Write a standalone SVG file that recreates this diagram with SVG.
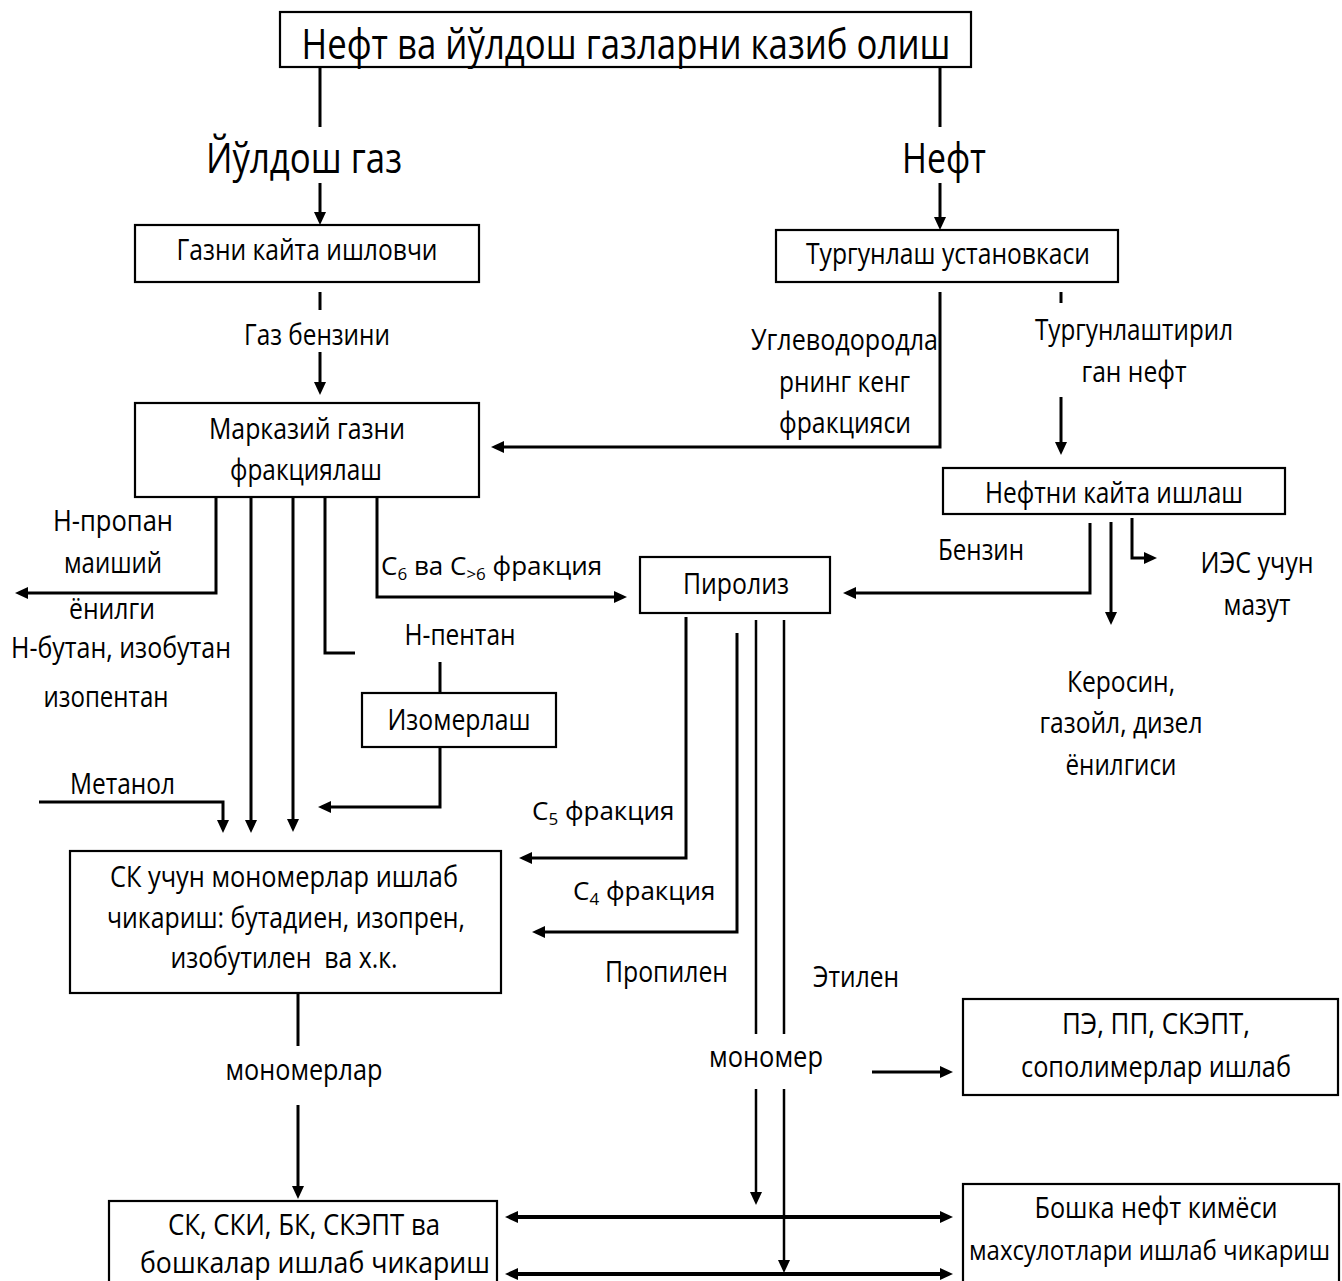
<svg xmlns="http://www.w3.org/2000/svg" width="1342" height="1281" viewBox="0 0 1342 1281">
<defs>
<style>
text{font-family:"Open Sans","Noto Sans","DejaVu Sans",sans-serif;fill:#000}
.b{font-size:42px}
.t{font-size:30px}
.s{font-size:26px}
.m{text-anchor:middle}
.box{fill:#fff;stroke:#000;stroke-width:2.2}
.c{fill:none;stroke:#000;stroke-width:3}
.th{fill:none;stroke:#000;stroke-width:2.5}
.dk{fill:none;stroke:#000;stroke-width:4}
.a{marker-end:url(#ah)}
.d{marker-start:url(#ah);marker-end:url(#ah)}
</style>
<marker id="ah" markerUnits="userSpaceOnUse" markerWidth="14" markerHeight="14" viewBox="0 0 14 14" refX="5" refY="7" orient="auto-start-reverse">
<path d="M0,1 L13,7 L0,13 z" fill="#000"/>
</marker>
</defs>
<rect width="1342" height="1281" fill="#fff"/>

<g id="connectors">
<path class="c" d="M320,67 V127"/>
<path class="c" d="M940,67 V127"/>
<path class="c a" d="M320,183 V217"/>
<path class="c a" d="M940,183 V222"/>
<path class="c" d="M320,292 V310"/>
<path class="c a" d="M320,352 V387"/>
<path class="c a" d="M940,292 V447 H499"/>
<path class="c" d="M1061,292 V303"/>
<path class="c a" d="M1061,397 V447"/>
<path class="c a" d="M216,490 V593 H23"/>
<path class="c a" d="M251,490 V825"/>
<path class="c a" d="M293,490 V824"/>
<path class="c" d="M325,490 V653 H355"/>
<path class="c a" d="M377,492 V597 H619"/>
<path class="c" d="M440,662 V693"/>
<path class="c a" d="M440,747 V807 H326"/>
<path class="c a" d="M39,802 H223 V825"/>
<path class="c a" d="M1090,523 V593 H851"/>
<path class="c a" d="M1111,522 V617"/>
<path class="c a" d="M1132,518 V558 H1149"/>
<path class="c a" d="M686,617 V858 H527"/>
<path class="c a" d="M737,633 V932 H540"/>
<path class="th" d="M756,620 V1034"/>
<path class="th" d="M784,620 V1034"/>
<path class="th a" d="M756,1089 V1197"/>
<path class="th a" d="M784,1089 V1265"/>
<path class="c a" d="M872,1072 H945"/>
<path class="dk d" d="M513,1217 H945"/>
<path class="dk d" d="M513,1274 H945"/>
<path class="c" d="M298,970 V1046"/>
<path class="c a" d="M298,1105 V1191"/>
</g>

<g id="n-top"><rect class="box" x="280" y="12" width="691" height="55"/>
<text class="b m" x="626" y="59" textLength="649" lengthAdjust="spacingAndGlyphs">Нефт ва йўлдош газларни казиб олиш</text></g>

<g id="l-gas"><text class="b m" x="304" y="173" textLength="196" lengthAdjust="spacingAndGlyphs">Йўлдош газ</text></g>
<g id="l-oil"><text class="b m" x="944" y="173" textLength="84" lengthAdjust="spacingAndGlyphs">Нефт</text></g>

<g id="n-gazni"><rect class="box" x="135" y="225" width="344" height="57"/>
<text class="t m" x="307" y="260" textLength="261" lengthAdjust="spacingAndGlyphs">Газни кайта ишловчи</text></g>

<g id="n-turg"><rect class="box" x="776" y="230" width="342" height="52"/>
<text class="t m" x="948" y="264" textLength="284" lengthAdjust="spacingAndGlyphs">Тургунлаш установкаси</text></g>

<g id="l-gb"><text class="t m" x="317" y="345" textLength="146" lengthAdjust="spacingAndGlyphs">Газ бензини</text></g>

<g id="l-ugl">
<text class="t" x="751" y="350" textLength="187" lengthAdjust="spacingAndGlyphs">Углеводородла</text>
<text class="t" x="779" y="392" textLength="131" lengthAdjust="spacingAndGlyphs">рнинг кенг</text>
<text class="t" x="779" y="433" textLength="132" lengthAdjust="spacingAndGlyphs">фракцияси</text>
</g>

<g id="l-turg2">
<text class="t m" x="1134" y="340" textLength="198" lengthAdjust="spacingAndGlyphs">Тургунлаштирил</text>
<text class="t m" x="1134" y="382" textLength="105" lengthAdjust="spacingAndGlyphs">ган нефт</text>
</g>

<g id="n-mark"><rect class="box" x="135" y="403" width="344" height="94"/>
<text class="t m" x="307" y="439" textLength="196" lengthAdjust="spacingAndGlyphs">Марказий газни</text>
<text class="t m" x="306" y="480" textLength="152" lengthAdjust="spacingAndGlyphs">фракциялаш</text></g>

<g id="n-neftni"><rect class="box" x="943" y="468" width="342" height="46"/>
<text class="t m" x="1114" y="503" textLength="258" lengthAdjust="spacingAndGlyphs">Нефтни кайта ишлаш</text></g>

<g id="l-prop">
<text class="t m" x="113" y="531" textLength="120" lengthAdjust="spacingAndGlyphs">Н-пропан</text>
<text class="t m" x="113" y="573" textLength="98" lengthAdjust="spacingAndGlyphs">маиший</text>
<text class="t m" x="112" y="619" textLength="86" lengthAdjust="spacingAndGlyphs">ёнилги</text>
<text class="t m" x="121" y="658" textLength="220" lengthAdjust="spacingAndGlyphs">Н-бутан, изобутан</text>
<text class="t m" x="106" y="707" textLength="125" lengthAdjust="spacingAndGlyphs">изопентан</text>
</g>

<g id="l-c6"><text class="s" x="381" y="575">С<tspan font-size="17" dy="5">6</tspan><tspan dy="-5"> ва С</tspan><tspan font-size="17" dy="5">&gt;6</tspan><tspan dy="-5"> фракция</tspan></text></g>

<g id="l-benz"><text class="t m" x="981" y="560" textLength="86" lengthAdjust="spacingAndGlyphs">Бензин</text></g>

<g id="n-piro"><rect class="box" x="640" y="557" width="190" height="56"/>
<text class="t m" x="736" y="594" textLength="106" lengthAdjust="spacingAndGlyphs">Пиролиз</text></g>

<g id="l-ies">
<text class="t m" x="1257" y="573" textLength="113" lengthAdjust="spacingAndGlyphs">ИЭС учун</text>
<text class="t m" x="1257" y="615" textLength="67" lengthAdjust="spacingAndGlyphs">мазут</text>
</g>

<g id="l-pent"><text class="t m" x="460" y="645" textLength="111" lengthAdjust="spacingAndGlyphs">Н-пентан</text></g>

<g id="n-izom"><rect class="box" x="362" y="693" width="194" height="54"/>
<text class="t m" x="459" y="730" textLength="143" lengthAdjust="spacingAndGlyphs">Изомерлаш</text></g>

<g id="l-kero">
<text class="t m" x="1121" y="692" textLength="108" lengthAdjust="spacingAndGlyphs">Керосин,</text>
<text class="t m" x="1121" y="733" textLength="163" lengthAdjust="spacingAndGlyphs">газойл, дизел</text>
<text class="t m" x="1121" y="775" textLength="111" lengthAdjust="spacingAndGlyphs">ёнилгиси</text>
</g>

<g id="l-met"><text class="t" x="70" y="794" textLength="105" lengthAdjust="spacingAndGlyphs">Метанол</text></g>

<g id="l-c5"><text class="s" x="532" y="820">С<tspan font-size="17" dy="5">5</tspan><tspan dy="-5"> фракция</tspan></text></g>
<g id="l-c4"><text class="s" x="573" y="900">С<tspan font-size="17" dy="5">4</tspan><tspan dy="-5"> фракция</tspan></text></g>

<g id="n-sk"><rect class="box" x="70" y="851" width="431" height="142"/>
<text class="t m" x="284" y="887" textLength="348" lengthAdjust="spacingAndGlyphs">СК учун мономерлар ишлаб</text>
<text class="t m" x="286" y="928" textLength="358" lengthAdjust="spacingAndGlyphs">чикариш: бутадиен, изопрен,</text>
<text class="t m" x="284" y="968" textLength="227" lengthAdjust="spacingAndGlyphs">изобутилен&#160; ва х.к.</text></g>

<g id="l-propil"><text class="t" x="605" y="982" textLength="123" lengthAdjust="spacingAndGlyphs">Пропилен</text></g>
<g id="l-etil"><text class="t" x="813" y="987" textLength="86" lengthAdjust="spacingAndGlyphs">Этилен</text></g>

<g id="l-monomerlar"><text class="t m" x="304" y="1080" textLength="157" lengthAdjust="spacingAndGlyphs">мономерлар</text></g>
<g id="l-monomer"><text class="t m" x="766" y="1067" textLength="114" lengthAdjust="spacingAndGlyphs">мономер</text></g>

<g id="n-pe"><rect class="box" x="963" y="999" width="375" height="96"/>
<text class="t m" x="1156" y="1034" textLength="188" lengthAdjust="spacingAndGlyphs">ПЭ, ПП, СКЭПТ,</text>
<text class="t m" x="1156" y="1077" textLength="270" lengthAdjust="spacingAndGlyphs">сополимерлар ишлаб</text></g>

<g id="n-boshka"><rect class="box" x="963" y="1184" width="376" height="110"/>
<text class="t m" x="1156" y="1218" textLength="243" lengthAdjust="spacingAndGlyphs">Бошка нефт кимёси</text>
<text class="t" x="969" y="1260" font-size="27" textLength="361" lengthAdjust="spacingAndGlyphs" style="font-size:27px">махсулотлари ишлаб чикариш</text></g>

<g id="n-skski"><rect class="box" x="109" y="1201" width="388" height="100"/>
<text class="t m" x="304" y="1235" textLength="272" lengthAdjust="spacingAndGlyphs">СК, СКИ, БК, СКЭПТ ва</text>
<text class="t m" x="315" y="1273" textLength="350" lengthAdjust="spacingAndGlyphs">бошкалар ишлаб чикариш</text></g>
</svg>
